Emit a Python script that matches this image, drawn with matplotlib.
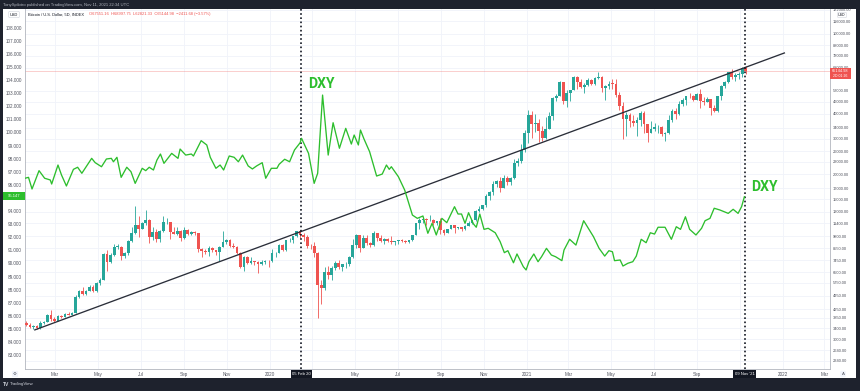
import matplotlib
matplotlib.use('Agg')
import matplotlib.pyplot as plt
from matplotlib.patches import Rectangle
from matplotlib.ticker import NullLocator
import numpy as np
import pandas as pd

plt.rcParams['font.family'] = ['Liberation Sans', 'DejaVu Sans']

W, H = 860, 391

# BTC/USD 5D candles, last bar opened 2021-11-09 (open of first bar = first_open)
last_bar = '2021-11-09'
first_open = 3600
btc_close = [3550, 3440, 3500, 3400, 3620, 3670, 3980, 3800, 3720, 3930,
             3880, 4020, 3990, 4080, 4900, 5200, 5070, 5250, 5500, 5200,
             5700, 5950, 8000, 7300, 7900, 8700, 8700, 7800, 8100, 9300,
             10200, 11100, 10600, 11400, 11800, 9700, 10300, 9500, 10400, 11500,
             11500, 10300, 10100, 10350, 9600, 10550, 10100, 10300, 10200, 8500,
             8300, 8150, 8580, 8350, 8220, 8650, 9150, 9400, 8800, 8650,
             8100, 6900, 7750, 7200, 7350, 7250, 7150, 7300, 7400, 7350,
             8050, 8120, 8900, 8400, 9350, 9350, 9800, 10350, 9900, 9700,
             8800, 8750, 8050, 5600, 5400, 6500, 6250, 6800, 7200, 6900,
             7100, 7150, 7700, 8900, 9950, 8600, 9650, 9100, 8850, 10200,
             9650, 9250, 9450, 9300, 9150, 9230, 9350, 9250, 9130, 9380,
             9950, 11350, 11750, 11900, 11800, 11850, 11350, 11700, 10500, 10150,
             10650, 11100, 10750, 10850, 10650, 11050, 11430, 11750, 13050, 13450,
             13950, 15500, 16300, 17800, 18400, 17150, 19200, 18300, 19150, 22800,
             23250, 26300, 32000, 39400, 35500, 35800, 33000, 30400, 33500, 39200,
             47900, 49200, 57500, 46300, 50500, 52400, 61200, 57800, 54500, 55800,
             59000, 56000, 60000, 61300, 53800, 55000, 56600, 56400, 49500, 43600,
             37500, 39300, 36700, 35800, 37300, 40200, 35600, 32200, 33500, 34200,
             34250, 31800, 32100, 37300, 41500, 39700, 45000, 47000, 49300, 48900,
             47000, 50000, 46400, 46000, 47300, 42700, 41500, 49100, 54900, 57300,
             64300, 61000, 62200, 62900, 67551.16, 65144.98]
btc_high = [3700, 3600, 3520, 3530, 3700, 3700, 4020, 4200, 3880, 3950,
            3950, 4060, 4100, 4120, 5000, 5280, 5450, 5300, 5600, 5600,
            5800, 6050, 8100, 8400, 8100, 8950, 9000, 8800, 8200, 9400,
            10900, 13800, 12400, 11600, 13200, 11900, 10900, 10600, 10500, 12300,
            12100, 11500, 10900, 10900, 10500, 10900, 10600, 10450, 10350, 10200,
            8550, 8500, 8800, 8650, 8400, 8800, 10400, 9450, 9500, 9100,
            8800, 8200, 7850, 7800, 7700, 7400, 7400, 7500, 7450, 7500,
            8450, 8200, 9000, 8950, 9400, 9550, 9850, 10400, 10500, 10200,
            9950, 9000, 9200, 8150, 5900, 6900, 6950, 7000, 7400, 7450,
            7150, 7300, 7800, 9450, 10000, 9950, 9900, 9900, 9200, 10400,
            10200, 9950, 9600, 9600, 9800, 9300, 9400, 9450, 9350, 9400,
            9950, 11450, 12100, 12050, 12100, 12500, 11900, 11700, 12100, 10600,
            10650, 11150, 11100, 10950, 10900, 11100, 11700, 11800, 13200, 13850,
            14100, 15950, 16500, 18500, 18800, 19400, 19900, 19600, 19400, 23800,
            24200, 28400, 33300, 41900, 41300, 40000, 37800, 34800, 38500, 40900,
            48600, 50000, 58300, 57500, 52600, 52500, 61800, 61700, 59500, 57000,
            60000, 59800, 61300, 64900, 61500, 55400, 58500, 59300, 59500, 51600,
            45800, 40900, 40400, 39500, 38400, 41200, 41400, 35600, 36600, 35900,
            35000, 34700, 32400, 39500, 42300, 42600, 46400, 48100, 49300, 50500,
            49800, 51000, 52900, 48600, 48500, 47300, 44300, 49300, 55700, 58500,
            64600, 67000, 63700, 64300, 68100, 68997.75]
btc_low = [3500, 3400, 3380, 3360, 3380, 3570, 3650, 3720, 3680, 3700,
           3820, 3860, 3950, 3950, 4060, 4800, 5000, 5000, 5200, 5150,
           5150, 5600, 5900, 6600, 7200, 7850, 8450, 7500, 7600, 7900,
           9200, 10100, 9700, 10600, 11200, 9100, 9400, 9200, 9200, 10300,
           11300, 9500, 10000, 9900, 9300, 9500, 9900, 9900, 9950, 8200,
           7700, 8000, 7800, 8200, 7900, 7350, 8650, 9000, 8700, 8600,
           8000, 6800, 6550, 7100, 7150, 7050, 6450, 7050, 7150, 6900,
           7300, 7700, 8100, 8300, 8250, 9200, 9100, 9700, 9600, 9300,
           8550, 8500, 7700, 3850, 4500, 5300, 6000, 5900, 6650, 6750,
           6550, 6800, 7000, 7650, 8600, 8150, 8550, 8900, 8650, 8800,
           9250, 9200, 8950, 9200, 9000, 8900, 8950, 9150, 9050, 9050,
           9300, 9900, 10600, 11350, 11100, 11650, 11150, 11200, 10000, 9900,
           10150, 10600, 10150, 10650, 10400, 10500, 11050, 11250, 11700, 12900,
           13250, 13700, 14800, 15800, 17300, 16300, 17100, 17700, 17600, 19000,
           21900, 22800, 25900, 28700, 30300, 32400, 28900, 29300, 30000, 33400,
           37400, 46200, 49000, 44900, 43000, 46300, 52400, 53300, 53700, 50500,
           55200, 55400, 55500, 59500, 51300, 47100, 53200, 53000, 48600, 42000,
           30100, 31100, 34200, 34900, 31000, 34700, 31900, 28900, 32000, 32700,
           32200, 31100, 29300, 31800, 36500, 37500, 39600, 43800, 44200, 47700,
           46300, 46600, 42800, 44200, 46000, 39600, 40800, 40900, 47100, 53800,
           56900, 59700, 58000, 59700, 60800, 62821.33]

# DXY comparison line: days after dxy_start, index value
dxy_start = '2019-01-17'
dxy_day = [0, 5, 10, 20, 28, 36, 38, 47, 52, 59, 69, 75, 81, 95, 100, 109, 116, 123, 126, 131,
           137, 145, 151, 157, 167, 172, 177, 183, 188, 193, 198, 209, 218, 221, 229, 237, 240,
           251, 259, 264, 272, 278, 283, 291, 298, 304, 310, 318, 324, 330, 338, 343, 351, 359,
           362, 370, 377, 384, 392,
           394, 404, 412, 417, 424, 432, 439, 448, 457, 465, 469, 475, 478, 483, 491, 501, 509,
           515, 519, 522, 532, 541, 552, 559, 567, 574, 580, 586, 594, 601, 612, 617, 622, 627,
           632, 639, 643, 648, 654, 660, 670, 677, 683, 688, 696, 701, 710, 714, 718, 725, 731,
           736, 743, 750, 756, 765, 768, 776,
           785, 796, 810, 818, 826, 832, 837, 840, 848, 852, 859, 866, 871, 878, 885, 891, 897,
           902, 912, 921, 928, 934, 941, 947, 956, 964, 969, 976, 982, 990, 1002, 1009, 1016,
           1021, 1025]
dxy_val = [96.50, 96.57, 95.68, 97.08, 96.50, 96.37, 96.06, 97.51, 96.75, 95.91, 97.18, 97.34,
           96.88, 98.02, 97.69, 97.38, 97.97, 98.02, 97.76, 98.10, 96.57, 97.34, 97.00, 96.11,
           97.26, 97.08, 97.34, 97.13, 97.89, 98.35, 97.64, 98.40, 98.02, 98.73, 98.27, 98.35,
           98.20, 99.37, 99.04, 98.10, 97.26, 97.51, 97.13, 98.20, 98.10, 97.76, 98.27, 97.44,
           97.21, 97.44, 97.69, 96.50, 97.26, 97.26, 97.56, 97.95, 97.76, 98.66, 99.21,
           99.55, 98.40, 96.11, 96.88, 102.85, 98.27, 100.74, 98.79, 100.31, 99.11, 99.80, 99.04,
           100.18, 99.50, 98.53, 96.67, 96.82, 97.51, 97.18, 97.38, 96.62, 95.60, 93.69, 93.44,
           93.62, 92.30, 93.06, 92.17, 93.44, 93.11, 94.33, 93.77, 93.77, 93.06, 93.87, 93.01,
           92.76, 93.77, 92.60, 92.68, 92.34, 91.66, 90.82, 90.97, 90.05, 90.72, 89.75, 89.50,
           90.13, 90.72, 90.13, 90.51, 91.15, 90.64, 90.51, 90.21, 91.02, 91.84,
           91.40, 93.26, 92.04, 91.15, 90.56, 90.97, 90.89, 90.21, 90.26, 89.80, 90.01, 90.13,
           90.56, 91.84, 91.58, 92.34, 92.24, 92.76, 92.76, 91.84, 92.80, 92.60, 93.56, 92.60,
           92.17, 92.68, 93.26, 93.44, 94.21, 94.08, 93.82, 94.13, 93.82, 94.33, 95.09]

trend_dates = ['2019-01-31', '2022-01-03']
trend_price = [3343, 80400]
vline_dates = ['2020-02-14', '2021-11-08']
vline_labels = ['05 Feb 20', "09 Nov '21"]
dxy_label_dates = ['2020-02-24', '2021-11-17']
dxy_label_vals = [103.73, 95.85]

btc_ticks = [2340, 2640, 3000, 3400, 3850, 4250, 4950, 5750, 6500, 7450, 8550, 9800,
             11400, 13000, 15000, 17000, 20000, 23000, 26000, 30000, 34000, 40000, 46000,
             52000, 68000, 78000, 88000, 100000, 116000, 132000]
# 95.000 sits under the last-value tag
dxy_ticks = [v for v in range(83, 109) if v != 95]
# month labels hidden under the crosshair date tags are left out
month_ticks = ['2019-03-01', '2019-05-01', '2019-07-01', '2019-09-01', '2019-11-01',
               '2020-01-01', '2020-05-01', '2020-07-01', '2020-09-01',
               '2020-11-01', '2021-01-01', '2021-03-01', '2021-05-01', '2021-07-01',
               '2021-09-01', '2022-01-01', '2022-03-01']
month_labels = ['Mar', 'May', 'Jul', 'Sep', 'Nov', '2020', 'May', 'Jul', 'Sep',
                'Nov', '2021', 'Mar', 'May', 'Jul', 'Sep', '2022', 'Mar']
grid_months = ['2020-03-01', '2021-11-01']

UP, DOWN = '#26a69a', '#ef5350'
GREEN = '#2dbe2d'
DARK = '#1e222d'
TXT = '#131722'
AXTXT = '#50535e'


def fx(x):
    return x / W


def fy(y):
    return 1 - y / H


fig = plt.figure(figsize=(W / 100, H / 100), dpi=100, facecolor=DARK)
fig.add_artist(Rectangle((fx(3), fy(378)), 853 / W, 369 / H, transform=fig.transFigure,
                         fc='white', ec='none', zorder=-10))

ax = fig.add_axes([fx(25), fy(369), 805 / W, 360 / H])
axd = ax.twinx()

ax.set_yscale('log')
ax.set_xlim(pd.Timestamp('2019-01-17'), pd.Timestamp('2022-03-09'))
ax.set_ylim(2134, 133200)
axd.set_ylim(81.94, 109.42)

# candles
o = np.array([first_open] + btc_close[:-1], dtype=float)
c = np.array(btc_close, dtype=float)
hi = np.array(btc_high, dtype=float)
lo = np.array(btc_low, dtype=float)
bar_dates = pd.date_range(end=last_bar, periods=len(c), freq='5D')
cols = np.where(c >= o, UP, DOWN)
ax.vlines(bar_dates, lo, hi, colors=cols, lw=0.6, zorder=3)
body_lo = np.minimum(o, c)
body_h = np.maximum(np.abs(c - o), body_lo * 0.004)
ax.bar(bar_dates, body_h, bottom=body_lo, width=3.9, color=cols, lw=0, zorder=4)

ax.plot(pd.to_datetime(trend_dates), trend_price, color='#2a2e39', lw=0.95, zorder=5)
ax.axhline(btc_close[-1], color=DOWN, lw=0.5, alpha=0.4, zorder=2)
for d in vline_dates:
    ax.axvline(pd.Timestamp(d), color=TXT, lw=1.2, ls=(0, (1, 1.5)), zorder=6)
for d in grid_months:
    ax.axvline(pd.Timestamp(d), color='#f0f3fa', lw=0.6, zorder=0.5)

# BTC price scale on the right
ax.yaxis.tick_right()
ax.set_yticks(btc_ticks)
ax.set_yticklabels([f'{v:.2f}' for v in btc_ticks])
ax.yaxis.set_minor_locator(NullLocator())
ax.set_xticks(pd.to_datetime(month_ticks))
ax.set_xticklabels(month_labels)
ax.tick_params(axis='y', which='both', left=False, labelleft=False, right=False,
               labelright=True, length=0, pad=2.2, labelsize=2.9, labelcolor=AXTXT)
ax.tick_params(axis='x', length=0, pad=2.0, labelsize=3.3, labelcolor=AXTXT)
ax.grid(True, color='#f0f3fa', lw=0.6)
ax.set_axisbelow(True)
ax.spines['top'].set_visible(False)
for s in ('left', 'right', 'bottom'):
    ax.spines[s].set_color('#b2b5be')
    ax.spines[s].set_linewidth(0.6)

# DXY on the left scale
axd.plot(pd.Timestamp(dxy_start) + pd.to_timedelta(dxy_day, unit='D'), dxy_val,
         color=GREEN, lw=0.95, zorder=5)
axd.set_yticks(dxy_ticks)
axd.set_yticklabels([f'{v:.3f}' for v in dxy_ticks])
axd.tick_params(axis='y', left=False, labelleft=True, right=False, labelright=False,
                length=0, pad=2.2, labelsize=3.3, labelcolor=AXTXT)
for s in axd.spines.values():
    s.set_visible(False)
for d, v in zip(dxy_label_dates, dxy_label_vals):
    axd.text(pd.Timestamp(d), v, 'DXY', color=GREEN, fontsize=10, fontweight='bold',
             family='Roboto', ha='left', va='center')

# header / footer bars
fig.add_artist(Rectangle((0, fy(9)), 1, 9 / H, transform=fig.transFigure,
                         fc=DARK, ec='none', zorder=10))
fig.add_artist(Rectangle((0, 0), 1, 13 / H, transform=fig.transFigure,
                         fc=DARK, ec='none', zorder=10))
fig.text(fx(3), fy(4.6), 'TonySpilotro published on TradingView.com, Nov 11, 2021 22:34 UTC',
         color='#b2b5be', fontsize=3.0, va='center', zorder=11)
fig.text(fx(3), fy(384.5), 'TV', color='#d1d4dc', fontsize=3.6, fontweight='bold',
         va='center', zorder=11)
fig.text(fx(10), fy(384.5), 'TradingView', color='#d1d4dc', fontsize=3.2,
         va='center', zorder=11)

# legend line
fig.text(fx(28), fy(14.5), 'Bitcoin / U.S. Dollar, 5D, INDEX', color=TXT, fontsize=2.9,
         va='center', zorder=11)
fig.text(fx(89), fy(14.5), 'O67551.16  H68997.75  L62821.33  C65144.98  \u22122411.68 (\u22123.57%)',
         color=DOWN, fontsize=2.9, va='center', zorder=11)
fig.text(fx(14), fy(14.5), 'USD', color=TXT, fontsize=2.9, va='center', ha='center', zorder=11,
         bbox=dict(boxstyle='round,pad=0.3', fc='white', ec='#d1d4dc', lw=0.4))
fig.text(fx(842), fy(15), 'USD', color=TXT, fontsize=2.6, va='center', ha='center', zorder=11,
         bbox=dict(boxstyle='round,pad=0.15', fc='white', ec='#d1d4dc', lw=0.4))

# last-value tags
fig.add_artist(Rectangle((fx(830), fy(79)), 21 / W, 11 / H, transform=fig.transFigure,
                         fc=DOWN, ec='none', zorder=11))
fig.text(fx(840.5), fy(71), '65144.98', color='white', fontsize=2.8, ha='center',
         va='center', zorder=12)
fig.text(fx(840.5), fy(76), '2D 01:26', color='white', fontsize=2.5, ha='center',
         va='center', zorder=12)
fig.add_artist(Rectangle((fx(3), fy(200)), 22 / W, 8 / H, transform=fig.transFigure,
                         fc=GREEN, ec='none', zorder=11))
fig.text(fx(14), fy(196), '95.147', color='white', fontsize=3.0, ha='center',
         va='center', zorder=12)

# crosshair date tags on the time axis
for xp, lab in zip([301.5, 744.5], vline_labels):
    fig.text(fx(xp), fy(374), lab, color='white', fontsize=3.1, ha='center', va='center',
             zorder=12, bbox=dict(boxstyle='square,pad=0.35', fc=TXT, ec='none'))

# small scale buttons
fig.text(fx(15), fy(374), '\u2699', color=AXTXT, fontsize=3.2, ha='center', va='center',
         family='DejaVu Sans', zorder=12,
         bbox=dict(boxstyle='round,pad=0.25', fc='#f0f3fa', ec='none'))
fig.text(fx(843), fy(374), 'A', color=AXTXT, fontsize=3.2, ha='center', va='center',
         zorder=12, bbox=dict(boxstyle='round,pad=0.3', fc='#f0f3fa', ec='none'))

fig.savefig('out.png', dpi=100, facecolor=DARK)
